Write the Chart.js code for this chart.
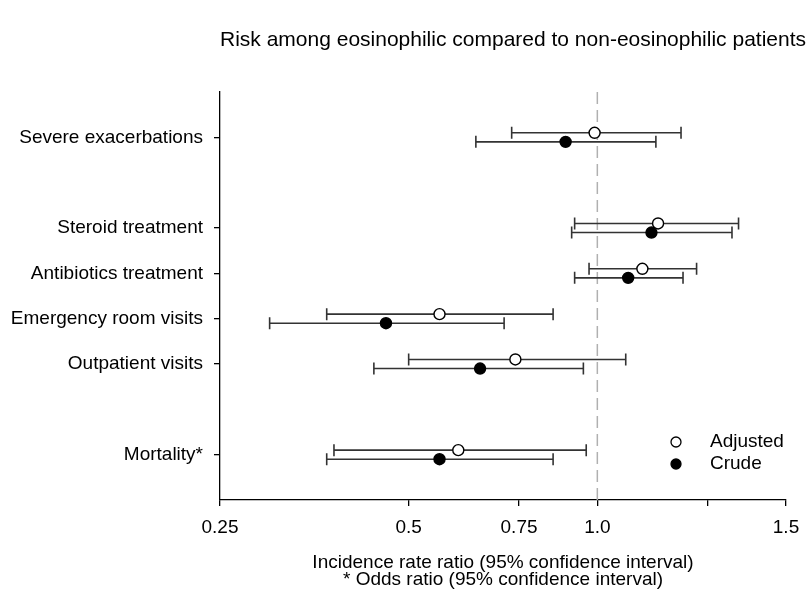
<!DOCTYPE html>
<html>
<head>
<meta charset="utf-8">
<script src="https://cdn.jsdelivr.net/npm/chart.js@4.4.1/dist/chart.umd.min.js"></script>
<style>
html,body{margin:0;padding:0;background:#fff;}
#wrap{width:811px;height:592px;}
</style>
</head>
<body>
<div id="wrap"><canvas id="c" width="811" height="592"></canvas></div>
<script>
// ---- data ----
const categories = ["Severe exacerbations", "", "Steroid treatment", "Antibiotics treatment", "Emergency room visits", "Outpatient visits", "", "Mortality*"];
const rowIndex = [0, 2, 3, 4, 5, 7];
const adjustedEst = [0.99, 1.25, 1.18, 0.56, 0.74, 0.60];
const adjustedLow = [0.73, 0.92, 0.97, 0.37, 0.50, 0.38];
const adjustedHigh = [1.36, 1.68, 1.44, 0.85, 1.11, 0.96];
const crudeEst = [0.89, 1.22, 1.12, 0.46, 0.65, 0.56];
const crudeLow = [0.64, 0.91, 0.92, 0.30, 0.44, 0.37];
const crudeHigh = [1.24, 1.64, 1.37, 0.71, 0.95, 0.85];
const xTickValues = [0.25, 0.5, 0.75, 1.0, 1.5, 2.0];
const xTickLabels = ["0.25", "0.5", "0.75", "1.0", "", "1.5"];
const titleText = "Risk among eosinophilic compared to non-eosinophilic patients";
const xTitle = ["Incidence rate ratio (95% confidence interval)", "* Odds ratio (95% confidence interval)"];
const seriesNames = ["Adjusted", "Crude"];

const FONT = "'Liberation Sans', Arial, sans-serif";
const OFF = 0.1;

function pts(est, low, high, off) {
  return est.map((v, i) => ({x: v, y: rowIndex[i] + off, lo: low[i], hi: high[i]}));
}

const errorBars = {
  id: 'errorBars',
  beforeDatasetsDraw(chart) {
    const {ctx, scales: {x, y}} = chart;
    ctx.save();
    ctx.strokeStyle = '#333';
    ctx.lineWidth = 1.6;
    chart.data.datasets.forEach(ds => {
      ds.data.forEach(p => {
        const x1 = x.getPixelForValue(p.lo), x2 = x.getPixelForValue(p.hi), yy = y.getPixelForValue(p.y);
        ctx.beginPath();
        ctx.moveTo(x1, yy); ctx.lineTo(x2, yy);
        ctx.moveTo(x1, yy - 6); ctx.lineTo(x1, yy + 6);
        ctx.moveTo(x2, yy - 6); ctx.lineTo(x2, yy + 6);
        ctx.stroke();
      });
    });
    ctx.restore();
  }
};

const refLine = {
  id: 'refLine',
  beforeDatasetsDraw(chart) {
    const {ctx, scales: {x, y}, chartArea} = chart;
    const px = x.getPixelForValue(1.0);
    ctx.save();
    ctx.strokeStyle = '#b0b0b0';
    ctx.lineWidth = 1.5;
    ctx.setLineDash([12, 6]);
    ctx.beginPath();
    ctx.moveTo(px, chartArea.top); ctx.lineTo(px, chartArea.bottom);
    ctx.stroke();
    ctx.restore();
  }
};

const extras = {
  id: 'extras',
  afterDraw(chart) {
    const {ctx} = chart;
    ctx.save();
    ctx.fillStyle = '#000';
    ctx.font = "21px " + FONT;
    ctx.textAlign = 'center';
    ctx.textBaseline = 'middle';
    ctx.fillText(titleText, 513, 40);
    // legend
    ctx.textAlign = 'left';
    ctx.font = "19px " + FONT;
    const ly = [442, 464];
    ly.forEach((yy, i) => {
      ctx.beginPath();
      ctx.arc(676, yy, 5, 0, Math.PI * 2);
      ctx.fillStyle = i === 0 ? '#fff' : '#000';
      ctx.fill();
      ctx.lineWidth = 1.3;
      ctx.strokeStyle = '#000';
      ctx.stroke();
      ctx.fillStyle = '#000';
      ctx.fillText(seriesNames[i], 710, yy);
    });
    ctx.restore();
  }
};

new Chart(document.getElementById('c'), {
  type: 'scatter',
  data: {
    datasets: [
      {label: seriesNames[0], data: pts(adjustedEst, adjustedLow, adjustedHigh, -OFF),
       pointRadius: 5.5, pointBackgroundColor: '#fff', pointBorderColor: '#000', pointBorderWidth: 1.4},
      {label: seriesNames[1], data: pts(crudeEst, crudeLow, crudeHigh, OFF),
       pointRadius: 5.5, pointBackgroundColor: '#000', pointBorderColor: '#000', pointBorderWidth: 1.4}
    ]
  },
  options: {
    responsive: false,
    animation: false,
    events: [],
    layout: {padding: {top: 92, right: 25, left: 0, bottom: 0}},
    plugins: {legend: {display: false}, tooltip: {enabled: false}, title: {display: false}},
    scales: {
      x: {
        type: 'logarithmic', min: 0.25, max: 2.0,
        afterBuildTicks: s => { s.ticks = xTickValues.map(v => ({value: v})); },
        afterFit: s => { s.height = 92; },
        ticks: {
          autoSkip: false, maxRotation: 0, padding: 10, color: '#000',
          font: {family: FONT, size: 19},
          callback: function(v) { const i = xTickValues.indexOf(v); return i >= 0 ? xTickLabels[i] : ''; }
        },
        grid: {drawOnChartArea: false, drawTicks: true, tickLength: 6, color: '#000', lineWidth: 1.3},
        border: {display: true, color: '#000', width: 1.3},
        title: {display: true, text: xTitle, color: '#000', font: {family: FONT, size: 19, lineHeight: 0.93}, padding: {top: 0, bottom: 3}}
      },
      y: {
        type: 'linear', min: -1, max: 8, reverse: true,
        afterBuildTicks: s => { s.ticks = rowIndex.map(v => ({value: v})); },
        afterFit: s => { s.width = 220; },
        ticks: {
          autoSkip: false, padding: 11, color: '#000',
          font: {family: FONT, size: 19},
          callback: v => categories[v]
        },
        grid: {drawOnChartArea: false, drawTicks: true, tickLength: 6, color: '#000', lineWidth: 1.3},
        border: {display: true, color: '#000', width: 1.3}
      }
    }
  },
  plugins: [refLine, errorBars, extras]
});
</script>
</body>
</html>
